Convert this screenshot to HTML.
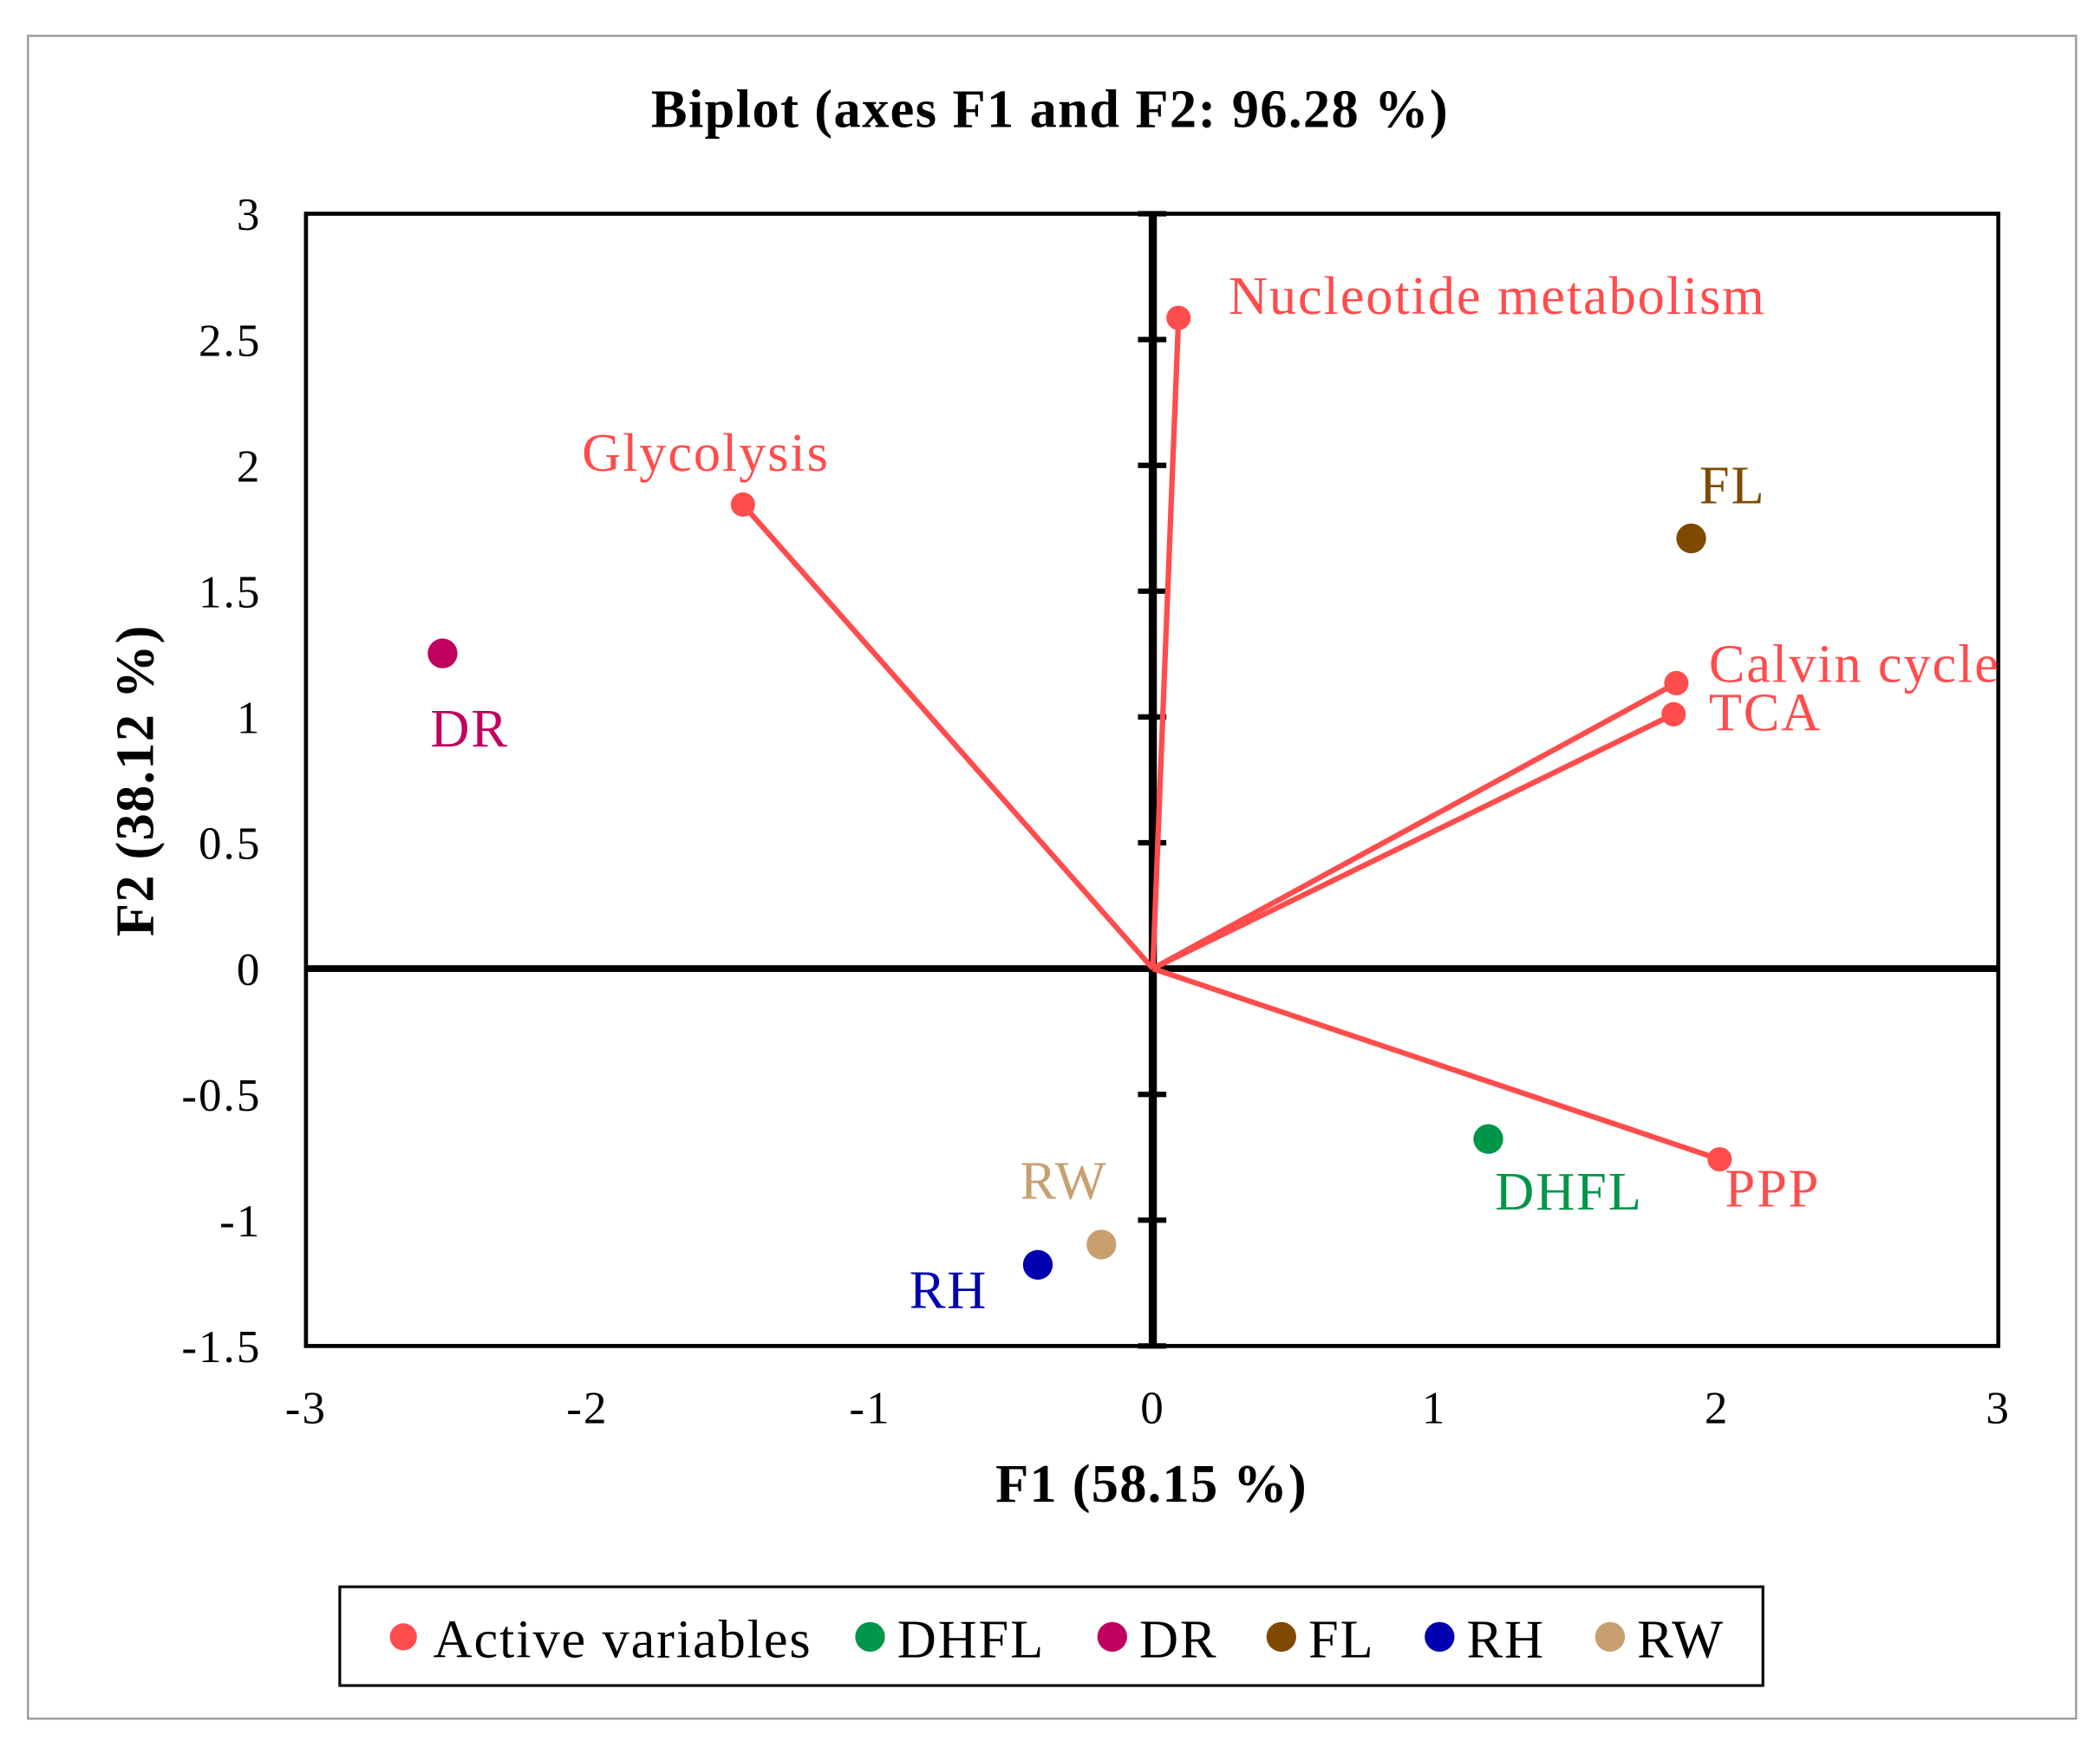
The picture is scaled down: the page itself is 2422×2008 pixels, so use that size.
<!DOCTYPE html>
<html><head><style>html,body{margin:0;padding:0;background:#fff}svg{display:block}</style></head>
<body>
<svg width="2422" height="2008" viewBox="0 0 1552 1287" xmlns="http://www.w3.org/2000/svg" font-family="'Liberation Serif', serif">
<rect x="0" y="0" width="1552" height="1287" fill="#fff"/>
<rect x="20.5" y="26.5" width="1514" height="1244" fill="none" stroke="#999" stroke-width="1.5"/>
<text x="776" y="94" text-anchor="middle" font-size="40" font-weight="bold" letter-spacing="0.9">Biplot (axes F1 and F2: 96.28 %)</text>
<rect x="226" y="158" width="1251" height="837" fill="none" stroke="#000" stroke-width="3"/>
<line x1="226" y1="716" x2="1477" y2="716" stroke="#000" stroke-width="5"/>
<line x1="852" y1="158" x2="852" y2="995" stroke="#000" stroke-width="6"/>
<g stroke="#000" stroke-width="4">
<line x1="841" y1="158" x2="862" y2="158"/><line x1="841" y1="251" x2="862" y2="251"/><line x1="841" y1="344" x2="862" y2="344"/><line x1="841" y1="437" x2="862" y2="437"/><line x1="841" y1="530" x2="862" y2="530"/><line x1="841" y1="623" x2="862" y2="623"/><line x1="841" y1="809" x2="862" y2="809"/><line x1="841" y1="902" x2="862" y2="902"/><line x1="841" y1="995" x2="862" y2="995"/>
</g>
<g font-size="34" text-anchor="end" letter-spacing="1.3">
<text x="193" y="170">3</text><text x="193" y="263">2.5</text><text x="193" y="356">2</text><text x="193" y="449">1.5</text><text x="193" y="542">1</text><text x="193" y="635">0.5</text><text x="193" y="728">0</text><text x="193" y="821">-0.5</text><text x="193" y="914">-1</text><text x="193" y="1007">-1.5</text>
</g>
<g font-size="34" text-anchor="middle" letter-spacing="1.3">
<text x="226" y="1052">-3</text><text x="434" y="1052">-2</text><text x="643" y="1052">-1</text><text x="852" y="1052">0</text><text x="1060" y="1052">1</text><text x="1269" y="1052">2</text><text x="1477" y="1052">3</text>
</g>
<text x="851" y="1110" text-anchor="middle" font-size="40" font-weight="bold" letter-spacing="0.8">F1 (58.15 %)</text>
<text transform="translate(113,577) rotate(-90)" text-anchor="middle" font-size="40" font-weight="bold" letter-spacing="0.8">F2 (38.12 %)</text>
<g stroke="#ff4c4c" stroke-width="4" fill="none">
<line x1="852" y1="716" x2="871" y2="235"/><line x1="852" y1="716" x2="549" y2="373"/><line x1="852" y1="716" x2="1239" y2="505"/><line x1="852" y1="716" x2="1237" y2="528"/><line x1="852" y1="716" x2="1271" y2="857"/>
</g>
<g fill="#ff4c4c">
<circle cx="871" cy="235" r="9"/><circle cx="549" cy="373" r="9"/><circle cx="1239" cy="505" r="9"/><circle cx="1237" cy="528" r="9"/><circle cx="1271" cy="857" r="9"/>
</g>
<g font-size="40" fill="#ff4c4c" letter-spacing="1.2">
<text x="908" y="232">Nucleotide metabolism</text><text x="430" y="348">Glycolysis</text><text x="1263" y="504">Calvin cycle</text><text x="1263" y="540">TCA</text><text x="1275" y="892">PPP</text>
</g>
<g font-size="40" letter-spacing="1.2">
<circle cx="1250" cy="398" r="11" fill="#7f4a00"/><text x="1256" y="372" fill="#7f4a00">FL</text>
<circle cx="327" cy="483" r="11" fill="#c0005e"/><text x="318" y="552" fill="#c0005e">DR</text>
<circle cx="1100" cy="842" r="11" fill="#00964a"/><text x="1105" y="894" fill="#00964a">DHFL</text>
<circle cx="814" cy="920" r="11" fill="#c8a070"/><text x="754" y="886" fill="#c8a070">RW</text>
<circle cx="767" cy="935" r="11" fill="#0000b0"/><text x="672" y="967" fill="#0000b0">RH</text>
</g>
<rect x="251" y="1173" width="1052" height="73" fill="none" stroke="#000" stroke-width="2"/>
<g font-size="40" letter-spacing="1.2">
<circle cx="298" cy="1210" r="10" fill="#ff4c4c"/><text x="320" y="1225">Active variables</text>
<circle cx="643" cy="1210" r="11" fill="#00964a"/><text x="663" y="1225">DHFL</text>
<circle cx="822" cy="1210" r="11" fill="#c0005e"/><text x="842" y="1225">DR</text>
<circle cx="947" cy="1210" r="11" fill="#7f4a00"/><text x="967" y="1225">FL</text>
<circle cx="1064" cy="1210" r="11" fill="#0000b0"/><text x="1084" y="1225">RH</text>
<circle cx="1190" cy="1210" r="11" fill="#c8a070"/><text x="1210" y="1225">RW</text>
</g>
</svg>
</body></html>
